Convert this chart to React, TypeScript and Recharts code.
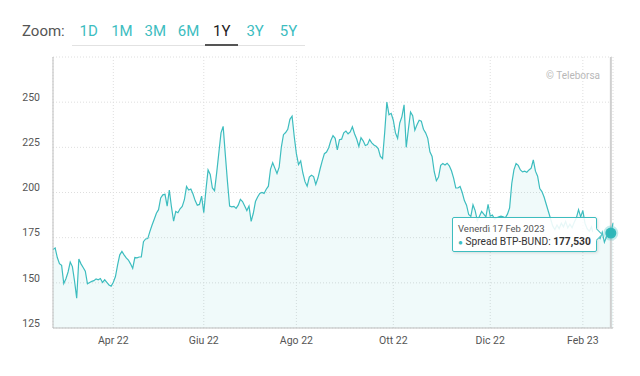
import { AreaChart, Area, XAxis, YAxis, CartesianGrid, Tooltip } from 'recharts';

// Spread BTP-BUND, one value per trading day (Feb 2022 - Feb 2023)
const spread = [
  168.5, 169.3, 164, 160.6, 159.7, 149.6, 152.3, 156, 161.5, 159,
  151, 141.5, 163.2, 160.5, 158.5, 156.5, 149.5, 150.2, 150.8, 151.2,
  152.2, 151.7, 152.4, 150.2, 151.7, 150.2, 148.8, 148.2, 150.3, 153.5,
  160, 165.5, 167.4, 165.5, 163.8, 162.6, 160.5, 158, 164, 163.8,
  164.3, 164.3, 172.8, 174.3, 174.5, 178.5, 182, 185.2, 188.5, 190.5,
  197, 198.7, 199, 192.5, 201.4, 192, 184.1, 189.5, 188.8, 191,
  192.3, 196, 203.3, 201.4, 201.9, 199.2, 195.5, 193, 193.4, 198,
  188.8, 201.4, 212.5, 210, 202.5, 201, 211, 222, 233, 236.6,
  221, 206, 192.5, 192.1, 192.3, 191.2, 193, 196.2, 195, 192.5,
  190, 192.5, 184, 188.5, 195, 197.5, 199.5, 200, 199.5, 201.8,
  203.5, 213, 216.5, 213.5, 210.5, 214, 225, 232, 233.2, 235,
  240.5, 242.2, 231, 221.5, 215.5, 217.5, 210.8, 206, 203.5, 208.5,
  209.5, 208.8, 204.5, 208, 213, 217.5, 221.5, 222.4, 224.8, 228.8,
  231.5, 230, 223.6, 229.2, 229.5, 233, 234, 232.5, 233.5, 236.4,
  232.5, 229.6, 225.5, 230.3, 228.6, 226, 226.5, 229.3, 227.5, 226.3,
  225.6, 224.3, 220, 218.8, 233.3, 250, 243, 243.8, 240, 233,
  230, 238.5, 242, 248.5, 225, 235, 244.5, 242.5, 234.5, 237.5,
  240, 239.5, 235, 233, 230, 222.5, 220, 211.5, 206.5, 208.5,
  215, 216, 215.2, 216.2, 214.8, 212, 208, 202.5, 202.5, 203.3,
  200, 195.5, 193, 187.8, 186.8, 193.2, 190, 184.5, 186.8, 189.5,
  188, 186.5, 193.5, 187, 187.5, 185.2, 186, 186.6, 186.9, 186.6,
  186, 188, 191.5, 205, 212.5, 216, 215, 212.5, 211.4, 211.8,
  211.2, 212.5, 213.5, 218, 211.8, 209, 202.2, 200.5, 197.5, 193.5,
  189.5, 185.5, 181.5, 179.5, 182, 180, 183, 181, 184, 180.5,
  182.5, 180.5, 183.5, 186, 190.5, 186.5, 190, 183, 180, 178.5,
  181, 176.5, 179, 176, 174.5, 178, 172.5, 175.5, 176, 177.53,
  183,
];

const tickIndex = [28, 70, 113, 158, 203, 246];
const tickLabels = ['Apr 22', 'Giu 22', 'Ago 22', 'Ott 22', 'Dic 22', 'Feb 23'];
const yTicks = [125, 150, 175, 200, 225, 250, 275];
const zoomButtons = ['1D', '1M', '3M', '6M', '1Y', '3Y', '5Y'];
const selectedZoom = '1Y';
const activeIndex = 259;
const activeDate = 'Venerdì 17 Feb 2023';
const seriesName = 'Spread BTP-BUND';

const TEAL = '#3dbdbf';
const FONT = 'Roboto, sans-serif';

const data = spread.map((v, i) => ({ i, v }));

const YTick = ({ x, y, payload }: any) => {
  if (payload.value > 250) return <g />;
  return (
    <text x={x} y={y - 4} textAnchor="end" dominantBaseline="middle" fontSize={10.5} fill="#555" fontFamily={FONT}>
      {payload.value}
    </text>
  );
};

const TooltipBox = ({ payload }: any) => {
  if (!payload || !payload.length) return null;
  const value = Number(payload[0].value).toLocaleString('it-IT', { minimumFractionDigits: 3, maximumFractionDigits: 3 });
  return (
    <div
      style={{
        position: 'relative',
        width: 145,
        height: 35,
        background: 'rgba(255,255,255,0.88)',
        border: `1px solid ${TEAL}`,
        borderRadius: 2,
        boxShadow: '1px 1px 3px rgba(0,0,0,0.12)',
        fontFamily: FONT,
        padding: '5px 0 0 5px',
        boxSizing: 'border-box',
        whiteSpace: 'nowrap',
      }}
    >
      <div style={{ fontSize: 9.5, color: '#555', lineHeight: '12px' }}>{activeDate}</div>
      <div style={{ fontSize: 10.2, color: '#333', lineHeight: '14px' }}>
        <span style={{ color: TEAL, fontSize: 8 }}>●</span> {seriesName}: <b>{value}</b>
      </div>
      <div
        style={{
          position: 'absolute',
          right: -5,
          top: 12,
          width: 8,
          height: 8,
          background: '#fff',
          borderTop: `1px solid ${TEAL}`,
          borderRight: `1px solid ${TEAL}`,
          transform: 'rotate(45deg)',
        }}
      />
    </div>
  );
};

export default function App() {
  return (
    <div style={{ position: 'absolute', left: 0, top: 0, width: 640, height: 376, background: '#fff', fontFamily: FONT }}>
      <div style={{ position: 'absolute', left: 22, top: 20, lineHeight: '22px', fontSize: 15, color: '#555' }}>Zoom:</div>
      <div style={{ position: 'absolute', left: 72, top: 20, display: 'flex', borderBottom: '1px solid #e2e2e2' }}>
        {zoomButtons.map((b) => (
          <div
            key={b}
            style={{
              width: 33.3,
              height: 26,
              lineHeight: '22px',
              textAlign: 'center',
              fontSize: 15,
              color: b === selectedZoom ? '#222' : TEAL,
              borderBottom: b === selectedZoom ? '2px solid #555' : '2px solid transparent',
              boxSizing: 'border-box',
              marginBottom: -1,
            }}
          >
            {b}
          </div>
        ))}
      </div>
      <div style={{ position: 'absolute', right: 40, top: 70, fontSize: 10, color: '#b8b8b8' }}>© Teleborsa</div>

      <div style={{ position: 'absolute', left: 0, top: 0 }}>
        <AreaChart width={640} height={376} data={data} margin={{ top: 57, right: 27, bottom: 18, left: 0 }}>
          <CartesianGrid stroke="#dedede" strokeDasharray="1 2" />
          <XAxis
            dataKey="i"
            type="number"
            domain={[0, spread.length - 1]}
            ticks={tickIndex}
            tickFormatter={(v) => tickLabels[tickIndex.indexOf(v)]}
            tickLine={false}
            axisLine={{ stroke: '#bdbdbd' }}
            tick={{ fontSize: 10.5, fill: '#555', fontFamily: FONT }}
            tickMargin={3}
            height={30}
          />
          <YAxis
            domain={[125, 275]}
            ticks={yTicks}
            width={53}
            tickLine={false}
            axisLine={{ stroke: '#bdbdbd' }}
            tickMargin={7}
            tick={<YTick />}
            interval={0}
          />
          <Tooltip
            defaultIndex={activeIndex}
            active
            position={{ x: 452, y: 217 }}
            cursor={{ stroke: '#cfcfcf', strokeWidth: 2 }}
            content={<TooltipBox />}
            wrapperStyle={{ outline: 'none' }}
            isAnimationActive={false}
          />
          <Area
            type="linear"
            dataKey="v"
            stroke={TEAL}
            strokeWidth={1.2}
            fill={TEAL}
            fillOpacity={0.08}
            dot={false}
            activeDot={{ r: 5.5, fill: '#2db6b8', stroke: 'rgba(61,189,191,0.3)', strokeWidth: 4 }}
            isAnimationActive={false}
          />
        </AreaChart>
      </div>
    </div>
  );
}
